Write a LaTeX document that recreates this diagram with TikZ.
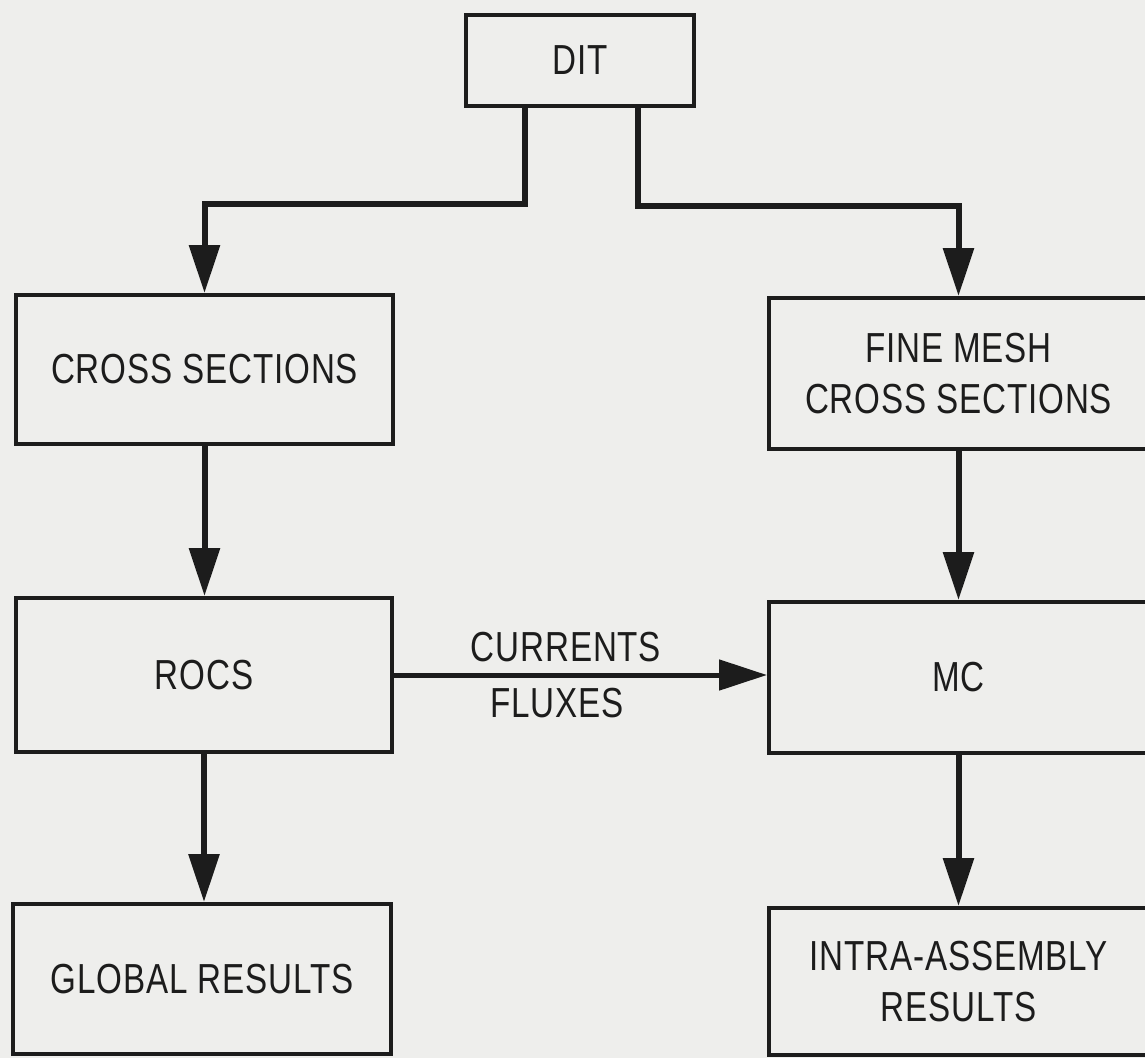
\documentclass[tikz,border=0pt]{standalone}
\usepackage{fontspec}
\setmainfont{Liberation Sans}[FakeStretch=0.79,LetterSpace=2]
\usetikzlibrary{arrows.meta,calc}
\definecolor{bg}{RGB}{238,238,236}
\definecolor{ink}{RGB}{28,28,28}
\begin{document}
\begin{tikzpicture}[x=1pt,y=-1pt,
  box/.style={draw=ink,line width=4pt,rectangle,inner sep=0pt,align=center,
    text=ink,font=\fontsize{42}{51}\selectfont},
  conn/.style={draw=ink,line width=6pt,line join=miter},
  tip/.style={-{Triangle[length=48pt,width=30pt]}},
  lbl/.style={text=ink,font=\fontsize{42}{51}\selectfont,inner sep=0pt}]
\fill[bg] (0,0) rectangle (1145,1058);
\useasboundingbox (0,0) rectangle (1145,1058);

\node[box,minimum width=228pt,minimum height=91pt] (dit) at (580,60.5) {DIT};
\node[box,minimum width=377pt,minimum height=149pt] (cs) at (204.5,369.5) {CROSS SECTIONS};
\node[box,minimum width=379pt,minimum height=151pt] (fm) at (958.5,373.5) {FINE MESH\\CROSS SECTIONS};
\node[box,minimum width=376pt,minimum height=154pt] (rocs) at (204,675) {ROCS};
\node[box,minimum width=379pt,minimum height=151pt] (mc) at (958.5,677.5) {MC};
\node[box,minimum width=378pt,minimum height=150pt] (glob) at (202,979) {GLOBAL RESULTS};
\node[box,minimum width=379pt,minimum height=147pt] (intra) at (958.5,981.5) {INTRA-ASSEMBLY\\RESULTS};

\node[lbl] (cur) at (566,647) {CURRENTS};
\node[lbl] (flx) at (557,703) {FLUXES};

\draw[conn,tip] ([xshift=-55pt]dit.south) -- ++(0,96) -| (cs.north);
\draw[conn,tip] ([xshift=58pt]dit.south) -- ++(0,98) -| (fm.north);
\draw[conn,tip] (cs.south) -- (cs.south |- rocs.north);
\draw[conn,tip] (rocs.south) -- (rocs.south |- glob.north);
\draw[conn,tip] (fm.south) -- (fm.south |- mc.north);
\draw[conn,tip] (mc.south) -- (mc.south |- intra.north);
\draw[conn,line width=5pt,tip] (rocs.east) -- (rocs.east -| mc.west);
\end{tikzpicture}
\end{document}
